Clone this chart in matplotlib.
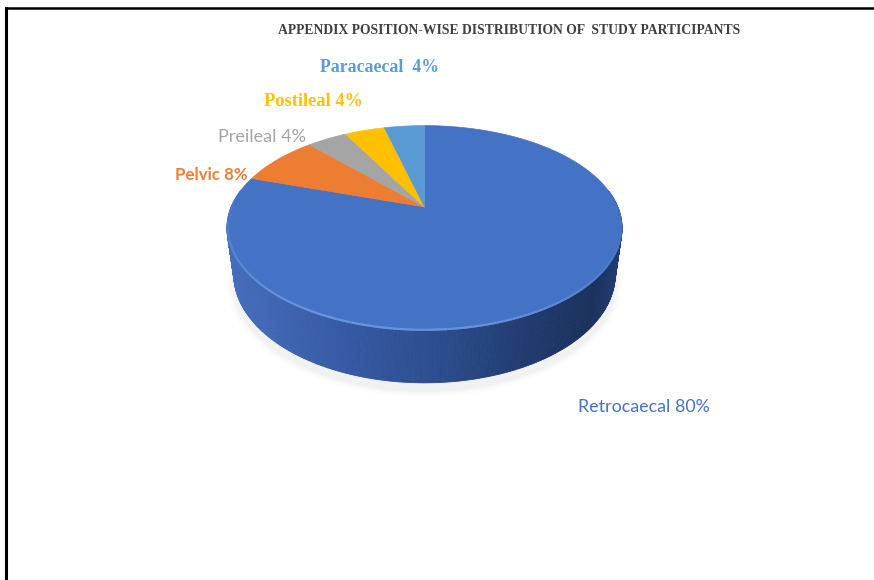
import numpy as np
import matplotlib
matplotlib.use('Agg')
import matplotlib.pyplot as plt
from matplotlib.patches import Polygon
from matplotlib.collections import LineCollection
from matplotlib.colors import LinearSegmentedColormap, to_rgba

# data
categories = ['Retrocaecal', 'Pelvic', 'Preileal', 'Postileal', 'Paracaecal']
percent = [80, 8, 4, 4, 4]
colors = ['#4472C4', '#ED7D31', '#A5A5A5', '#FFC000', '#5B9BD5']
label_sep = [' ', ' ', ' ', ' ', '  ']
title = 'APPENDIX POSITION-WISE DISTRIBUTION OF  STUDY PARTICIPANTS'

# ======================
# 3D view of the pie (simple perspective camera)
# ======================
elev = np.radians(30.5)
dist = 4.19
scale = 810
depth = 0.286
cx, cy = 424.5, 207
s_e, c_e = np.sin(elev), np.cos(elev)


def project(r, phi, z):
    # phi measured clockwise from the far point of the disc
    x = r * np.sin(phi)
    y = r * np.cos(phi)
    d = dist + c_e * y - z * s_e
    return cx + scale * x / d, cy - scale * (s_e * y + z * c_e) / d


fig = plt.figure(figsize=(8.74, 5.8), dpi=100, facecolor='white')
ax = fig.add_axes([0, 0, 1, 1])
ax.set_xlim(0, 874)
ax.set_ylim(580, 0)
ax.axis('off')

# faint shadow under the pie
full = np.linspace(0, 2 * np.pi, 361)
for grow, a in [(1.04, 0.025), (1.025, 0.035), (1.012, 0.045)]:
    sx, sy = project(grow, full, -depth - 0.03)
    ax.add_patch(Polygon(np.column_stack([sx, sy + 2]), closed=True,
                         facecolor='#808080', edgecolor='none', alpha=a, zorder=1))

# side wall with dark gradient
side_cmap = LinearSegmentedColormap.from_list(
    'side', [(0, '#456EBB'), (0.3, '#3559A4'), (0.55, '#2B4C8C'),
             (0.78, '#1F3A6C'), (0.93, '#1B315D'), (1.0, '#233D72')])
phis = np.linspace(np.radians(80), np.radians(280), 300)
xt, yt = project(1, phis, 0)
xb, yb = project(1, phis, -depth)
xmin, xmax = xt.min(), xt.max()
order = np.argsort(-np.cos(phis[:-1]))
for i in order:
    quad = [(xt[i], yt[i]), (xt[i + 1], yt[i + 1]), (xb[i + 1], yb[i + 1]), (xb[i], yb[i])]
    t = ((xt[i] + xt[i + 1]) / 2 - xmin) / (xmax - xmin)
    col = side_cmap(np.clip(t, 0, 1))
    ax.add_patch(Polygon(quad, closed=True, facecolor=col, edgecolor=col,
                         linewidth=0.6, zorder=2))

# top face slices
bounds = np.concatenate([[0], np.cumsum(percent)]) / np.sum(percent) * 2 * np.pi
ax0, ay0 = project(0, 0, 0)
for k in range(len(percent)):
    ph = np.linspace(bounds[k], bounds[k + 1], 200)
    rx, ry = project(1, ph, 0)
    pts = np.column_stack([np.r_[ax0, rx], np.r_[ay0, ry]])
    ax.add_patch(Polygon(pts, closed=True, facecolor=colors[k], edgecolor=colors[k],
                         linewidth=0.5, zorder=3))

# bevel highlight along the front rim
ph = np.linspace(np.radians(105), np.radians(278), 200)
hx, hy = project(0.995, ph, 0)
segs = np.stack([np.column_stack([hx[:-1], hy[:-1]]), np.column_stack([hx[1:], hy[1:]])], axis=1)
mid = (ph[:-1] + ph[1:]) / 2
alph = np.clip(np.sin((mid - np.radians(105)) / np.radians(173) * np.pi), 0, 1) * 0.9
hl = [to_rgba('#6E9AE0', a) for a in alph]
ax.add_collection(LineCollection(segs, colors=hl, linewidths=1.6, zorder=4))

# ======================
# labels
# ======================
label_pos = [(644, 407), (211, 175), (262, 137), (313, 102), (379, 68)]
label_font = [
    dict(family=['Lato', 'DejaVu Sans'], size=12.9, weight='normal'),
    dict(family=['Lato', 'DejaVu Sans'], size=12.2, weight='bold'),
    dict(family=['Lato', 'DejaVu Sans'], size=13, weight='normal'),
    dict(family=['Liberation Serif', 'DejaVu Serif'], size=13.2, weight='bold'),
    dict(family=['Liberation Serif', 'DejaVu Serif'], size=12.8, weight='bold'),
]
for name, p, col, sep, (lx, ly), fnt in zip(categories, percent, colors, label_sep,
                                            label_pos, label_font):
    ax.text(lx, ly, f'{name}{sep}{p}%', color=col, ha='center', va='center',
            fontfamily=fnt['family'], fontsize=fnt['size'], fontweight=fnt['weight'],
            zorder=6)

ax.text(509.5, 30, title, ha='center', va='center', color='#404040',
        fontfamily=['Liberation Serif', 'DejaVu Serif'], fontsize=9.8, fontweight='bold')

# border around the picture (right and bottom edges cut off)
ax.plot([6, 6], [580, 8], color='black', linewidth=2.2, solid_capstyle='projecting',
        clip_on=False, zorder=7)
ax.plot([6, 874], [8, 8], color='black', linewidth=1.8, solid_capstyle='projecting',
        clip_on=False, zorder=7)

fig.savefig('out.png', dpi=100, facecolor='white')
